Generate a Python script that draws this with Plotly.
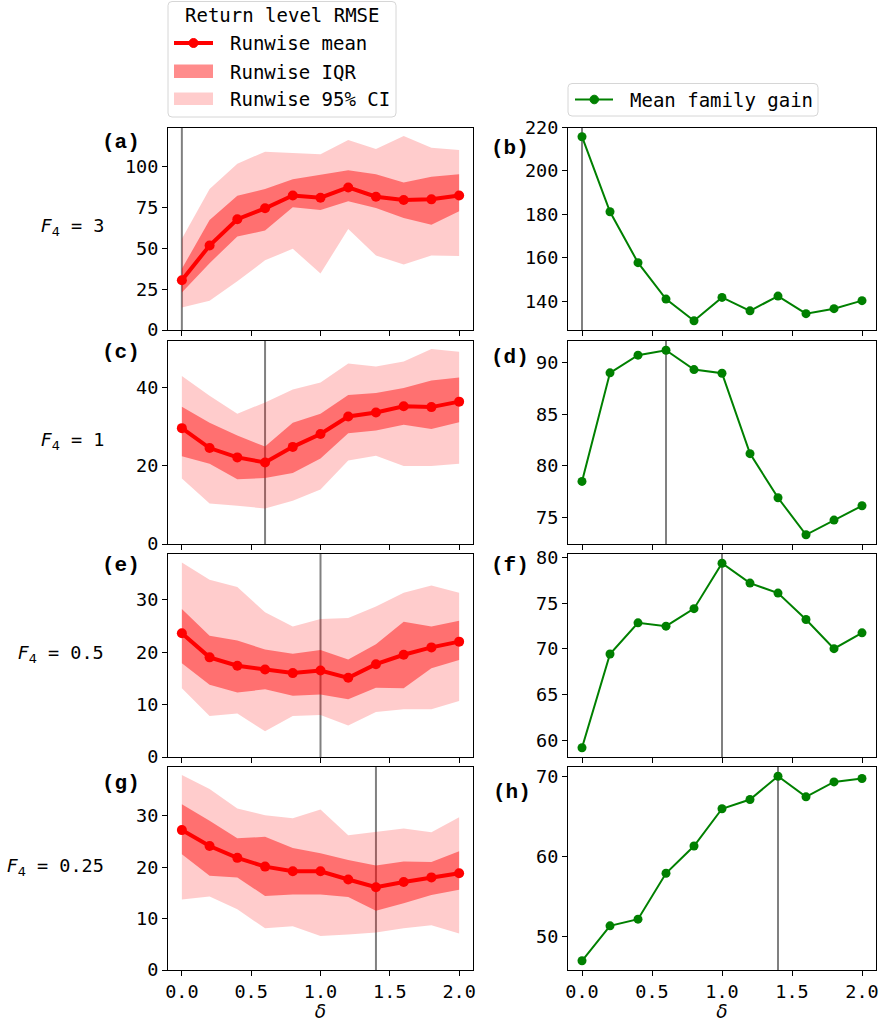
import plotly.graph_objects as go

# ---------------------------------------------------------------- data
delta = [0.0, 0.2, 0.4, 0.6, 0.8, 1.0, 1.2, 1.4, 1.6, 1.8, 2.0]
f4_values = ["3", "1", "0.5", "0.25"]

# Return level RMSE, one set of arrays per F4 value
rmse_mean_3 = [30.5, 51.8, 67.9, 74.6, 82.5, 81.1, 87.4, 81.7, 79.7, 80.1, 82.5]
rmse_iqr_lo_3 = [23.0, 41.0, 57.3, 61.0, 75.2, 73.6, 78.9, 74.8, 68.7, 64.6, 72.8]
rmse_iqr_hi_3 = [37.5, 67.5, 82.3, 86.4, 92.5, 95.1, 98.0, 95.5, 90.4, 93.9, 95.5]
rmse_ci_lo_3 = [13.8, 17.9, 29.9, 42.7, 49.8, 34.6, 62.0, 45.7, 40.2, 45.7, 45.3]
rmse_ci_hi_3 = [55.9, 86.4, 102.0, 109.3, 108.5, 107.7, 116.5, 111.0, 118.9, 111.8, 110.4]

rmse_mean_1 = [29.7, 24.6, 22.2, 20.9, 24.9, 28.2, 32.7, 33.7, 35.3, 35.1, 36.5]
rmse_iqr_lo_1 = [22.5, 20.6, 16.6, 16.9, 18.2, 21.9, 28.4, 29.1, 30.6, 29.5, 31.2]
rmse_iqr_hi_1 = [35.2, 31.1, 27.8, 25.0, 31.1, 33.4, 38.2, 38.7, 40.0, 41.9, 42.7]
rmse_ci_lo_1 = [16.8, 10.4, 9.8, 9.1, 11.1, 14.0, 21.4, 22.6, 20.0, 20.0, 20.6]
rmse_ci_hi_1 = [43.1, 38.0, 33.4, 36.3, 39.6, 41.4, 46.3, 45.5, 46.8, 50.0, 49.3]

rmse_mean_05 = [23.6, 19.0, 17.4, 16.7, 16.0, 16.5, 15.1, 17.7, 19.5, 20.9, 22.0]
rmse_iqr_lo_05 = [17.9, 13.8, 12.3, 12.9, 11.7, 11.9, 11.0, 13.2, 13.1, 16.9, 18.5]
rmse_iqr_hi_05 = [28.2, 23.1, 22.2, 20.5, 19.7, 20.4, 18.6, 21.5, 25.8, 24.9, 26.0]
rmse_ci_lo_05 = [13.1, 7.8, 8.3, 4.9, 7.8, 8.0, 6.0, 8.6, 9.1, 9.1, 10.7]
rmse_ci_hi_05 = [37.1, 33.8, 32.4, 27.6, 24.9, 26.3, 26.5, 28.7, 31.3, 32.7, 31.3]

rmse_mean_025 = [27.2, 24.1, 21.8, 20.1, 19.2, 19.2, 17.6, 16.1, 17.1, 18.0, 18.8]
rmse_iqr_lo_025 = [22.5, 18.3, 18.0, 14.4, 14.7, 14.7, 14.2, 11.5, 13.0, 14.6, 15.6]
rmse_iqr_hi_025 = [32.2, 29.0, 25.6, 25.9, 23.7, 22.7, 21.4, 20.3, 21.1, 21.0, 23.1]
rmse_ci_lo_025 = [13.7, 14.3, 11.8, 8.1, 8.5, 6.6, 6.9, 7.3, 8.1, 8.7, 7.1]
rmse_ci_hi_025 = [37.9, 35.2, 31.4, 30.1, 29.5, 31.2, 26.2, 26.9, 27.5, 26.8, 29.7]

# Mean family gain, one array per F4 value
gain_3 = [215.8, 181.2, 157.7, 140.9, 130.9, 141.7, 135.5, 142.3, 134.2, 136.5, 140.2]
gain_1 = [78.47, 89.03, 90.75, 91.23, 89.35, 88.99, 81.17, 76.88, 73.28, 74.71, 76.1]
gain_05 = [59.2, 69.44, 72.84, 72.48, 74.39, 79.35, 77.18, 76.09, 73.2, 70.02, 71.75]
gain_025 = [46.92, 51.29, 52.12, 57.86, 61.27, 65.93, 67.09, 70.0, 67.42, 69.29, 69.71]

rmse_rows = [
    (rmse_mean_3, rmse_iqr_lo_3, rmse_iqr_hi_3, rmse_ci_lo_3, rmse_ci_hi_3),
    (rmse_mean_1, rmse_iqr_lo_1, rmse_iqr_hi_1, rmse_ci_lo_1, rmse_ci_hi_1),
    (rmse_mean_05, rmse_iqr_lo_05, rmse_iqr_hi_05, rmse_ci_lo_05, rmse_ci_hi_05),
    (rmse_mean_025, rmse_iqr_lo_025, rmse_iqr_hi_025, rmse_ci_lo_025, rmse_ci_hi_025),
]
gain_rows = [gain_3, gain_1, gain_05, gain_025]

left_dticks = [25, 20, 10, 10]
right_dticks = [20, 5, 5, 10]
panel_letters = ["a", "b", "c", "d", "e", "f", "g", "h"]

# ---------------------------------------------------------------- layout geometry (pixels)
W, H = 880, 1022
col_px = [(168, 473), (568, 876)]
row_px = [(127.5, 330), (341, 544), (554, 757), (767, 970)]
letter_pos = [(121, 142), (510, 148), (121, 353), (510, 357),
              (121, 565), (510, 565), (121, 783), (512, 792)]

RED = "#ff0000"
GREEN = "#008000"
CI_FILL = "rgba(255,0,0,0.2)"
IQR_FILL = "rgba(255,0,0,0.45)"
MONO = "DejaVu Sans Mono"
SANS = "DejaVu Sans"
FS = 18.5


def px(x):
    return x / W


def py(y):
    return 1 - y / H


def auto_range(values, floor=None):
    lo, hi = min(values), max(values)
    pad = 0.05 * (hi - lo)
    lo, hi = lo - pad, hi + pad
    if floor is not None:
        lo = floor
    return [lo, hi]


fig = go.Figure()
layout = dict(
    template="none",
    width=W, height=H,
    margin=dict(l=0, r=0, t=0, b=0, pad=0),
    plot_bgcolor="white", paper_bgcolor="white",
    showlegend=False,
    font=dict(family=MONO, size=FS, color="black"),
)
shapes = []
annotations = []

for r in range(4):
    mean, iqr_lo, iqr_hi, ci_lo, ci_hi = rmse_rows[r]
    gain = gain_rows[r]
    best = delta[gain.index(max(gain))]
    for c in range(2):
        n = 2 * r + c + 1
        key = "" if n == 1 else str(n)
        xa, ya = "x" + key, "y" + key
        if c == 0:
            fig.add_trace(go.Scatter(x=delta, y=ci_lo, mode="lines", line=dict(width=0),
                                     xaxis=xa, yaxis=ya, hoverinfo="skip"))
            fig.add_trace(go.Scatter(x=delta, y=ci_hi, mode="lines", line=dict(width=0),
                                     fill="tonexty", fillcolor=CI_FILL,
                                     xaxis=xa, yaxis=ya, name="Runwise 95% CI"))
            fig.add_trace(go.Scatter(x=delta, y=iqr_lo, mode="lines", line=dict(width=0),
                                     xaxis=xa, yaxis=ya, hoverinfo="skip"))
            fig.add_trace(go.Scatter(x=delta, y=iqr_hi, mode="lines", line=dict(width=0),
                                     fill="tonexty", fillcolor=IQR_FILL,
                                     xaxis=xa, yaxis=ya, name="Runwise IQR"))
            fig.add_trace(go.Scatter(x=delta, y=mean, mode="lines+markers",
                                     line=dict(color=RED, width=4),
                                     marker=dict(color=RED, size=10),
                                     xaxis=xa, yaxis=ya, name="Runwise mean"))
            yrange = auto_range(ci_lo + ci_hi + mean, floor=0)
            dtick = left_dticks[r]
        else:
            fig.add_trace(go.Scatter(x=delta, y=gain, mode="lines+markers",
                                     line=dict(color=GREEN, width=2),
                                     marker=dict(color=GREEN, size=9),
                                     xaxis=xa, yaxis=ya, name="Mean family gain"))
            yrange = auto_range(gain)
            dtick = right_dticks[r]

        x0, x1 = col_px[c]
        y0, y1 = row_px[r]
        axis_common = dict(
            showline=True, linecolor="black", linewidth=1, mirror=True,
            ticks="outside", ticklen=5, tickwidth=1, tickcolor="black",
            showgrid=False, zeroline=False, automargin=False,
            tickfont=dict(family=MONO, size=FS, color="black"),
        )
        xaxis = dict(
            axis_common, domain=[px(x0), px(x1)], anchor=ya, range=[-0.1, 2.1],
            tickmode="array", tickvals=[0, 0.5, 1.0, 1.5, 2.0],
            ticktext=["0.0", "0.5", "1.0", "1.5", "2.0"],
            showticklabels=(r == 3),
        )
        if r == 3:
            xaxis["title"] = dict(text="<i>δ</i>", font=dict(family=SANS, size=FS), standoff=0)
        layout["xaxis" + key] = xaxis
        layout["yaxis" + key] = dict(
            axis_common, domain=[py(y1), py(y0)], anchor=xa, range=yrange,
            tickmode="linear", tick0=0, dtick=dtick,
        )
        # vertical marker at the delta with the largest mean family gain
        shapes.append(dict(type="line", xref=xa, yref=ya + " domain",
                           x0=best, x1=best, y0=0, y1=1,
                           line=dict(color="#808080", width=2), layer="below"))
        lx, ly = letter_pos[n - 1]
        annotations.append(dict(text=f"<b>({panel_letters[n - 1]})</b>", xref="paper", yref="paper",
                                x=px(lx), y=py(ly), xanchor="center", yanchor="middle",
                                showarrow=False,
                                font=dict(family="Liberation Mono", size=21, color="black")))
    # row label
    annotations.append(dict(
        text=f'<span style="font-family:{SANS}"><i>F</i><sub>4</sub></span> = {f4_values[r]}',
        xref="paper", yref="paper", x=px(106), y=py((row_px[r][0] + row_px[r][1]) / 2 - 1.5),
        xanchor="right", yanchor="middle", showarrow=False,
        font=dict(family=MONO, size=FS, color="black")))


# ---------------------------------------------------------------- legends
def rounded_box(x0, y0, x1, y1, rad=4):
    X = lambda v: px(v)
    Y = lambda v: py(v)
    return (f"M {X(x0 + rad)},{Y(y0)} L {X(x1 - rad)},{Y(y0)} Q {X(x1)},{Y(y0)} {X(x1)},{Y(y0 + rad)} "
            f"L {X(x1)},{Y(y1 - rad)} Q {X(x1)},{Y(y1)} {X(x1 - rad)},{Y(y1)} "
            f"L {X(x0 + rad)},{Y(y1)} Q {X(x0)},{Y(y1)} {X(x0)},{Y(y1 - rad)} "
            f"L {X(x0)},{Y(y0 + rad)} Q {X(x0)},{Y(y0)} {X(x0 + rad)},{Y(y0)} Z")


def legend_text(text, x, y, anchor="left"):
    annotations.append(dict(text=text, xref="paper", yref="paper", x=px(x), y=py(y),
                            xanchor=anchor, yanchor="middle", showarrow=False,
                            font=dict(family=MONO, size=19, color="black")))


# RMSE legend
shapes.append(dict(type="path", xref="paper", yref="paper", path=rounded_box(168, 1.5, 396, 117),
                   line=dict(color="#d6d6d6", width=1), fillcolor="white", layer="below"))
legend_text("Return level RMSE", 282, 15, anchor="center")
shapes.append(dict(type="line", xref="paper", yref="paper", x0=px(174), x1=px(213), y0=py(43), y1=py(43),
                   line=dict(color=RED, width=4), layer="above"))
shapes.append(dict(type="circle", xref="paper", yref="paper", x0=px(189), x1=px(198), y0=py(47.5), y1=py(38.5),
                   line=dict(color=RED, width=1), fillcolor=RED, layer="above"))
legend_text("Runwise mean", 228, 43)
shapes.append(dict(type="rect", xref="paper", yref="paper", x0=px(174), x1=px(213), y0=py(78), y1=py(64.5),
                   line=dict(width=0), fillcolor=IQR_FILL, layer="above"))
legend_text("Runwise IQR", 228, 72)
shapes.append(dict(type="rect", xref="paper", yref="paper", x0=px(174), x1=px(213), y0=py(105), y1=py(92.5),
                   line=dict(width=0), fillcolor=CI_FILL, layer="above"))
legend_text("Runwise 95% CI", 228, 99)

# gain legend
shapes.append(dict(type="path", xref="paper", yref="paper", path=rounded_box(568, 83.5, 818, 116),
                   line=dict(color="#d6d6d6", width=1), fillcolor="white", layer="below"))
shapes.append(dict(type="line", xref="paper", yref="paper", x0=px(575), x1=px(613), y0=py(99.5), y1=py(99.5),
                   line=dict(color=GREEN, width=2), layer="above"))
shapes.append(dict(type="circle", xref="paper", yref="paper", x0=px(590), x1=px(598.5), y0=py(103.8), y1=py(95.2),
                   line=dict(color=GREEN, width=1), fillcolor=GREEN, layer="above"))
legend_text("Mean family gain", 628, 99.5)

layout["shapes"] = shapes
layout["annotations"] = annotations
fig.update_layout(**layout)
fig.write_html("out.html")
